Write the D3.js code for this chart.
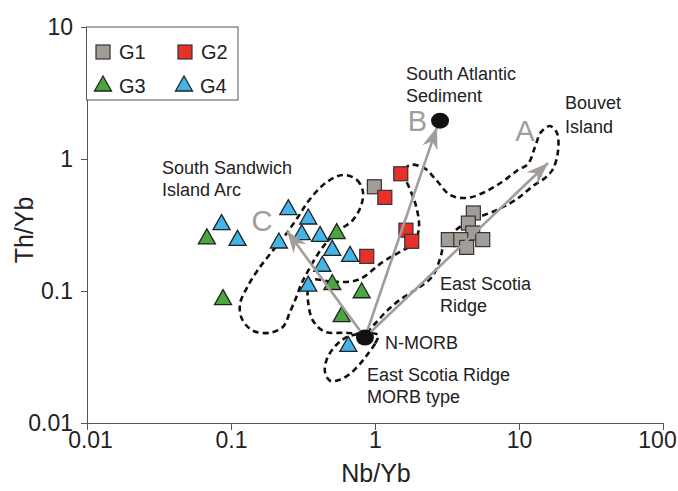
<!DOCTYPE html>
<html>
<head>
<meta charset="utf-8">
<script src="https://cdn.jsdelivr.net/npm/d3@7"></script>
<style>
  html, body { margin: 0; padding: 0; background: #fff; }
  svg { display: block; font-family: "Liberation Sans", Arial, Helvetica, sans-serif; }
</style>
</head>
<body>
<svg id="chart" width="678" height="491"></svg>
<script>
// ---- Sample groups: Nb/Yb and Th/Yb ----
const g1NbYb = [0.99, 4.82, 4.45, 4.77, 3.23, 3.94, 5.60, 4.33];
const g1ThYb = [0.616, 0.390, 0.327, 0.275, 0.245, 0.245, 0.245, 0.214];

const g2NbYb = [1.51, 1.17, 1.64, 1.80, 0.876];
const g2ThYb = [0.773, 0.512, 0.289, 0.238, 0.183];

const g3NbYb = [0.068, 0.542, 0.505, 0.808, 0.088, 0.587];
const g3ThYb = [0.248, 0.272, 0.112, 0.097, 0.086, 0.064];

const g4NbYb = [0.250, 0.344, 0.086, 0.310, 0.415, 0.111, 0.215, 0.505, 0.671, 0.431, 0.344, 0.653];
const g4ThYb = [0.413, 0.351, 0.318, 0.267, 0.259, 0.242, 0.231, 0.203, 0.183, 0.154, 0.109, 0.038];

// ---- End-members ----
const endNames = ["N-MORB", "South Atlantic Sediment"];
const endNbYb = [0.852, 2.83];
const endThYb = [0.0444, 1.95];

// ---- Trend vectors from N-MORB (A: Bouvet, B: sediment, C: arc) ----
const vecNames = ["A", "B", "C"];
const vecNbYb = [15.9, 2.695, 0.245];
const vecThYb = [0.933, 1.746, 0.285];
const vecLabelNbYb = [11.0, 1.973, 0.164];
const vecLabelThYb = [1.369, 1.628, 0.285];

// ---- Compositional fields (outline vertices) ----
const ssiaNbYb = [0.599, 0.750, 0.825, 0.799, 0.703, 0.571, 0.472, 0.402, 0.343, 0.306, 0.283, 0.257,
                  0.230, 0.187, 0.142, 0.119, 0.1155, 0.129, 0.152, 0.187, 0.2334, 0.292, 0.354, 0.464];
const ssiaThYb = [0.757, 0.694, 0.563, 0.441, 0.3455, 0.2904, 0.2397, 0.191, 0.142, 0.1114, 0.0888, 0.0696,
                  0.0536, 0.0483, 0.050, 0.0616, 0.080, 0.1057, 0.142, 0.191, 0.257, 0.364, 0.498, 0.670];

const esrNbYb = [0.365, 0.511, 0.762, 1.137, 1.491, 1.865, 2.02, 1.927, 1.722, 1.565, 1.750, 2.189, 2.695,
                 3.32, 4.355, 5.81, 7.62, 9.84, 11.55, 12.92, 14.22, 16.42, 18.36, 18.66, 17.22, 15.16,
                 12.51, 9.68, 7.04, 4.72, 3.59, 3.014, 2.83, 2.488, 1.958, 1.491, 1.192, 1.0, 0.852,
                 0.619, 0.449, 0.371, 0.343, 0.343];
const esrThYb = [0.1215, 0.1174, 0.1215, 0.1664, 0.198, 0.2315, 0.306, 0.441, 0.614, 0.784, 0.901, 0.855, 0.682,
                 0.534, 0.507, 0.563, 0.670, 0.826, 0.917, 1.232, 1.60, 1.776, 1.573, 1.149, 0.840, 0.718,
                 0.625, 0.498, 0.411, 0.3455, 0.2853, 0.2236, 0.1752, 0.128, 0.1039, 0.0858, 0.0696, 0.0565, 0.0483,
                 0.0483, 0.0491, 0.0595, 0.0829, 0.1057];

const morbNbYb = [1.049, 1.0, 0.894, 0.787, 0.671, 0.571, 0.487, 0.449, 0.464, 0.511, 0.571, 0.671];
const morbThYb = [0.0466, 0.0399, 0.0335, 0.0281, 0.0236, 0.0213, 0.0209, 0.0245, 0.0307, 0.0365, 0.0413, 0.0458];

// ---- Axis ticks ----
const xTicks = [0.01, 0.1, 1, 10, 100];
const xTickLabels = ["0.01", "0.1", "1", "10", "100"];
const yTicks = [0.01, 0.1, 1, 10];
const yTickLabels = ["0.01", "0.1", "1", "10"];

// ---- Text annotations (placed in data space) ----
const noteText = ["South Atlantic", "Sediment", "Bouvet", "Island", "South Sandwich", "Island Arc",
                  "East Scotia", "Ridge", "N-MORB", "East Scotia Ridge", "MORB type"];
const noteNbYb = [1.642, 1.642, 20.86, 20.86, 0.0332, 0.0332, 2.83, 2.83, 1.173, 0.880, 0.880];
const noteThYb = [3.96, 2.70, 2.388, 1.573, 0.770, 0.525, 0.102, 0.0696, 0.0365, 0.0209, 0.01427];

// ---- Layout ----
const svg = d3.select("#chart");
const x = d3.scaleLog().domain([0.01, 100]).range([87, 663]);
const y = d3.scaleLog().domain([0.01, 10]).range([423, 27]);

const colors = { G1: "#a39d98", G2: "#e8302a", G3: "#4aa63e", G4: "#43b5e8" };
const axisColor = "#555";
const vecColor = "#a29d99";

const zip = (a, b) => a.map((v, i) => [v, b[i]]);

// Axes
const xAxis = svg.append("g")
  .attr("transform", `translate(0,${y(0.01)})`)
  .call(d3.axisBottom(x).tickValues(xTicks)
    .tickFormat((d, i) => xTickLabels[i]).tickSizeInner(7).tickSizeOuter(0).tickPadding(2));
xAxis.select(".domain").attr("stroke", axisColor);
xAxis.selectAll(".tick line").attr("stroke", axisColor);
xAxis.selectAll(".tick text")
  .attr("fill", "#222").attr("font-size", 23)
  .attr("dx", (d, i) => i === 0 ? 3 : (i === xTicks.length - 1 ? -6 : 0));

const yAxis = svg.append("g")
  .attr("transform", `translate(${x(0.01)},0)`)
  .call(d3.axisLeft(y).tickValues(yTicks)
    .tickFormat((d, i) => yTickLabels[i]).tickSizeInner(6).tickSizeOuter(0).tickPadding(8));
yAxis.select(".domain").attr("stroke", axisColor);
yAxis.selectAll(".tick line").attr("stroke", axisColor);
yAxis.selectAll(".tick text").attr("fill", "#222").attr("font-size", 23);

svg.append("text")
  .attr("x", (x(0.01) + x(100)) / 2 + 1).attr("y", 482)
  .attr("text-anchor", "middle").attr("font-size", 25).attr("fill", "#222")
  .text("Nb/Yb");
svg.append("text")
  .attr("transform", `translate(33,${(y(0.01) + y(10)) / 2 + 5}) rotate(-90)`)
  .attr("text-anchor", "middle").attr("font-size", 25).attr("fill", "#222")
  .text("Th/Yb");

// Fields
const outline = d3.line()
  .x(d => x(d[0])).y(d => y(d[1]))
  .curve(d3.curveCatmullRomClosed.alpha(0.5));
const fields = [zip(ssiaNbYb, ssiaThYb), zip(esrNbYb, esrThYb), zip(morbNbYb, morbThYb)];
svg.append("g").selectAll("path").data(fields).join("path")
  .attr("d", outline)
  .attr("fill", "none").attr("stroke", "#111")
  .attr("stroke-width", 2.6).attr("stroke-dasharray", "6,4");

// Markers
const triPath = (w, h) => `M0,${-h * 2 / 3}L${w / 2},${h / 3}L${-w / 2},${h / 3}Z`;
const markerG = svg.append("g");
function squares(nb, th, fill) {
  markerG.selectAll(null).data(zip(nb, th)).join("rect")
    .attr("x", d => x(d[0]) - 7).attr("y", d => y(d[1]) - 7)
    .attr("width", 14).attr("height", 14)
    .attr("fill", fill).attr("stroke", "#333").attr("stroke-width", 1.2);
}
function triangles(nb, th, fill) {
  markerG.selectAll(null).data(zip(nb, th)).join("path")
    .attr("d", triPath(17, 15))
    .attr("transform", d => `translate(${x(d[0])},${y(d[1])})`)
    .attr("fill", fill).attr("stroke", "#222").attr("stroke-width", 1.3);
}
triangles(g4NbYb, g4ThYb, colors.G4);
triangles(g3NbYb, g3ThYb, colors.G3);
squares(g1NbYb, g1ThYb, colors.G1);
squares(g2NbYb, g2ThYb, colors.G2);

// Vectors from N-MORB
svg.append("defs").append("marker")
  .attr("id", "head").attr("viewBox", "-23 -10 24 20")
  .attr("refX", 0).attr("refY", 0)
  .attr("markerUnits", "userSpaceOnUse")
  .attr("markerWidth", 24).attr("markerHeight", 20)
  .attr("orient", "auto")
  .append("path").attr("d", "M0,0L-22,-8L-15,0L-22,8Z").attr("fill", vecColor);

const x0 = x(endNbYb[0]), y0 = y(endThYb[0]);
const vecG = svg.append("g");
vecNames.forEach((name, i) => {
  const x1 = x(vecNbYb[i]), y1 = y(vecThYb[i]);
  vecG.append("line")
    .attr("x1", x0).attr("y1", y0).attr("x2", x1).attr("y2", y1)
    .attr("stroke", vecColor).attr("stroke-width", 2.6)
    .attr("marker-end", "url(#head)");
  vecG.append("text")
    .attr("x", x(vecLabelNbYb[i])).attr("y", y(vecLabelThYb[i]))
    .attr("text-anchor", "middle").attr("font-size", 29).attr("fill", vecColor)
    .text(name);
});

// End-member dots
svg.append("g").selectAll("ellipse").data(zip(endNbYb, endThYb)).join("ellipse")
  .attr("cx", d => x(d[0])).attr("cy", d => y(d[1]))
  .attr("rx", 9).attr("ry", 8).attr("fill", "#111");

// Annotations
svg.append("g").selectAll("text").data(noteText).join("text")
  .attr("x", (d, i) => x(noteNbYb[i])).attr("y", (d, i) => y(noteThYb[i]))
  .attr("font-size", 18).attr("fill", "#222")
  .text(d => d);

// Legend
const legend = svg.append("g");
legend.append("rect")
  .attr("x", 86.5).attr("y", 27).attr("width", 151.5).attr("height", 73)
  .attr("fill", "#fff").attr("stroke", axisColor).attr("stroke-width", 1);
const legendItems = [
  { key: "G1", shape: "sq", cx: 103, cy: 52 },
  { key: "G2", shape: "sq", cx: 185, cy: 52 },
  { key: "G3", shape: "tri", cx: 103, cy: 86 },
  { key: "G4", shape: "tri", cx: 184, cy: 86 }
];
legendItems.forEach(it => {
  if (it.shape === "sq") {
    legend.append("rect")
      .attr("x", it.cx - 7).attr("y", it.cy - 7).attr("width", 14).attr("height", 14)
      .attr("fill", colors[it.key]).attr("stroke", "#333").attr("stroke-width", 1.2);
  } else {
    legend.append("path")
      .attr("d", triPath(17, 15))
      .attr("transform", `translate(${it.cx},${it.cy})`)
      .attr("fill", colors[it.key]).attr("stroke", "#222").attr("stroke-width", 1.3);
  }
  legend.append("text")
    .attr("x", it.cx + 16).attr("y", it.cy + 6.5)
    .attr("font-size", 20).attr("fill", "#222")
    .text(it.key);
});
</script>
</body>
</html>
